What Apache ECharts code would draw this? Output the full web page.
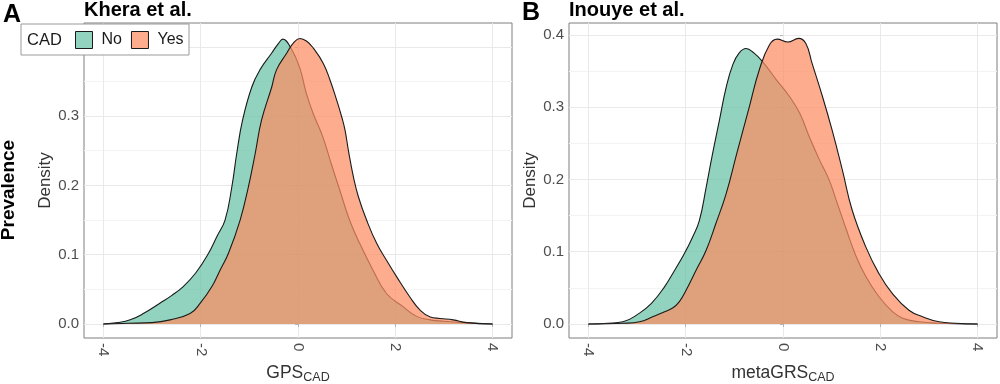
<!DOCTYPE html>
<html><head><meta charset="utf-8">
<script src="https://cdn.jsdelivr.net/npm/echarts@6/dist/echarts.min.js"></script>
<style>html,body{margin:0;padding:0;background:#fff}#c{width:1000px;height:384px}</style>
</head><body><div id="c"></div>
<script>
// ---------- data ----------
const xTicks = [-4, -2, 0, 2, 4];
const yTicks = [0, 0.1, 0.2, 0.3, 0.4];
const yMinorTicks = [0.05, 0.15, 0.25, 0.35];
const groups = ['No', 'Yes'];
const legendTitle = 'CAD';
const panelLetters = ['A', 'B'];
const panelTitles = ['Khera et al.', 'Inouye et al.'];
const xTitleMain = ['GPS', 'metaGRS'];
const xTitleSub = ['CAD', 'CAD'];
const yTitle = 'Density';
const rowTitle = 'Prevalence';

const kheraNoX = [-4.0,-3.7,-3.45,-3.18,-2.84,-2.6,-2.36,-2.1,-1.84,-1.67,-1.5,-1.36,-1.26,-1.14,-0.95,-0.78,-0.54,-0.4,-0.31,-0.16,0.03,0.17,0.31,0.51,0.68,0.86,1.06,1.27,1.54,1.82,2.16,2.44,2.72,3.0,3.4,4.0];
const kheraNoY = [0,0.002,0.006,0.015,0.03,0.041,0.054,0.074,0.102,0.126,0.15,0.198,0.246,0.294,0.342,0.367,0.391,0.405,0.411,0.4,0.371,0.333,0.304,0.27,0.232,0.193,0.15,0.116,0.078,0.044,0.025,0.011,0.006,0.004,0.002,0];

const kheraYesX = [-4.0,-3.5,-3.0,-2.63,-2.22,-2.01,-1.77,-1.6,-1.43,-1.19,-1.02,-0.88,-0.75,-0.54,-0.44,-0.23,-0.1,0.04,0.18,0.315,0.52,0.658,0.795,0.898,0.966,1.035,1.137,1.24,1.41,1.62,1.82,2.03,2.3,2.51,2.72,2.92,3.19,3.47,4.0];
const kheraYesY = [0,0.001,0.002,0.006,0.015,0.03,0.054,0.078,0.102,0.15,0.198,0.246,0.294,0.342,0.367,0.391,0.405,0.412,0.408,0.398,0.376,0.352,0.323,0.299,0.28,0.251,0.213,0.184,0.15,0.116,0.092,0.068,0.039,0.02,0.01,0.008,0.006,0.002,0];

const inouyeNoX = [-4.0,-3.6,-3.29,-2.95,-2.71,-2.44,-2.23,-2.03,-1.86,-1.72,-1.58,-1.45,-1.31,-1.17,-1.03,-0.9,-0.76,-0.6,-0.42,-0.14,0.13,0.34,0.54,0.75,0.95,1.09,1.3,1.5,1.7,1.97,2.25,2.46,2.8,3.2,4.0];
const inouyeNoY = [0,0.001,0.003,0.015,0.028,0.051,0.074,0.097,0.12,0.143,0.189,0.235,0.281,0.327,0.359,0.375,0.381,0.375,0.363,0.338,0.315,0.292,0.259,0.227,0.199,0.172,0.131,0.094,0.066,0.038,0.017,0.008,0.003,0.001,0];

const inouyeYesX = [-4.0,-3.29,-2.95,-2.68,-2.47,-2.27,-2.13,-1.99,-1.79,-1.58,-1.38,-1.17,-0.95,-0.69,-0.49,-0.28,-0.12,0.1,0.32,0.47,0.6,0.81,1.01,1.22,1.42,1.7,1.97,2.25,2.59,2.87,3.21,3.55,4.0];
const inouyeYesY = [0,0.001,0.003,0.01,0.016,0.022,0.031,0.047,0.074,0.102,0.139,0.18,0.236,0.301,0.351,0.386,0.394,0.39,0.395,0.388,0.36,0.315,0.268,0.213,0.158,0.107,0.07,0.042,0.019,0.01,0.003,0.001,0];

// ---------- styling ----------
const FONT = 'Liberation Sans, Arial, sans-serif';
const fills = ['rgba(102,194,165,0.72)', 'rgba(252,141,98,0.72)'];
const outline = '#1a1a1a';
const gridDefs = [
  {left: 84, top: 23, width: 428, height: 315, yMin: -0.0202, yMax: 0.4343},
  {left: 569, top: 23, width: 428, height: 315, yMin: -0.0194, yMax: 0.4163}
];
const panelData = [
  [[kheraNoX, kheraNoY], [kheraYesX, kheraYesY]],
  [[inouyeNoX, inouyeNoY], [inouyeYesX, inouyeYesY]]
];

const grids = [], xAxes = [], yAxes = [], series = [];
gridDefs.forEach((g, gi) => {
  grids.push({left: g.left, top: g.top, width: g.width, height: g.height, show: true,
    borderColor: '#7f7f7f', borderWidth: 1, backgroundColor: 'transparent',
    containLabel: false, outerBoundsMode: 'none'});
  xAxes.push({type: 'value', gridIndex: gi, min: -4.4, max: 4.4,
    name: '{m|' + xTitleMain[gi] + '}{s|' + xTitleSub[gi] + '}',
    nameLocation: 'middle', nameGap: 22,
    nameTextStyle: {fontFamily: FONT, color: '#333',
      rich: {m: {fontSize: 17.5, fontFamily: FONT, color: '#333', verticalAlign: 'bottom', padding: [0, 0, 2, 0]},
             s: {fontSize: 12.5, fontFamily: FONT, color: '#333', verticalAlign: 'bottom'}}},
    axisLine: {show: false},
    axisTick: {show: true, length: 3, customValues: xTicks, lineStyle: {color: '#b3b3b3'}},
    axisLabel: {customValues: xTicks, rotate: -90, margin: 5, fontSize: 15, color: '#4d4d4d', fontFamily: FONT,
      formatter: v => String(v)},
    splitLine: {show: true, lineStyle: {color: '#e9e9e9', width: 1}}
  });
  yAxes.push({type: 'value', gridIndex: gi, min: g.yMin, max: g.yMax,
    name: yTitle, nameLocation: 'middle', nameGap: 30,
    nameTextStyle: {fontSize: 17, color: '#333', fontFamily: FONT},
    axisLine: {show: false},
    axisTick: {show: true, length: 3, customValues: yTicks, lineStyle: {color: '#b3b3b3'}},
    axisLabel: {customValues: yTicks, margin: 5, fontSize: 15, color: '#4d4d4d', fontFamily: FONT,
      formatter: v => v.toFixed(1)},
    splitLine: {show: true, lineStyle: {color: '#e9e9e9', width: 1}}
  });
  yAxes.push({type: 'value', gridIndex: gi, min: g.yMin, max: g.yMax,
    axisLine: {show: false}, axisLabel: {show: false},
    axisTick: {show: false, customValues: yMinorTicks},
    splitLine: {show: true, lineStyle: {color: '#f3f3f3', width: 1}}
  });
  panelData[gi].forEach((d, si) => {
    series.push({type: 'line', name: groups[si], xAxisIndex: gi, yAxisIndex: gi * 2,
      data: d[0].map((x, i) => [x, d[1][i]]),
      smooth: 0.45, showSymbol: false, symbol: 'none', silent: true,
      lineStyle: {color: outline, width: 1.1},
      itemStyle: {color: fills[si]},
      areaStyle: {color: fills[si], opacity: 1},
      z: 2 + si
    });
  });
});

const graphics = [
  {type: 'rect', shape: {x: 21, y: 24, width: 168, height: 31}, style: {fill: '#fff', stroke: '#9a9a9a', lineWidth: 1}, z: 50},
  {type: 'text', x: 27, y: 40, style: {text: legendTitle, font: '16.5px ' + FONT, fill: '#1a1a1a', textVerticalAlign: 'middle'}, z: 51},
  {type: 'text', x: 9, y: 190, rotation: Math.PI / 2, style: {text: rowTitle, font: 'bold 19px ' + FONT, fill: '#000', textAlign: 'center', textVerticalAlign: 'middle'}, z: 51},
  {type: 'text', x: 3, y: 15, style: {text: panelLetters[0], font: 'bold 25px ' + FONT, fill: '#000', textVerticalAlign: 'middle'}, z: 51},
  {type: 'text', x: 84, y: 10, style: {text: panelTitles[0], font: 'bold 20px ' + FONT, fill: '#000', textVerticalAlign: 'middle'}, z: 51},
  {type: 'text', x: 522, y: 13, style: {text: panelLetters[1], font: 'bold 25px ' + FONT, fill: '#000', textVerticalAlign: 'middle'}, z: 51},
  {type: 'text', x: 569, y: 10, style: {text: panelTitles[1], font: 'bold 20px ' + FONT, fill: '#000', textVerticalAlign: 'middle'}, z: 51}
];

const chart = echarts.init(document.getElementById('c'), null, {renderer: 'canvas'});
chart.setOption({
  animation: false,
  backgroundColor: '#fff',
  textStyle: {fontFamily: FONT},
  grid: grids, xAxis: xAxes, yAxis: yAxes, series: series,
  legend: {left: 75, top: 31, padding: 0, itemWidth: 17, itemHeight: 17, itemGap: 9, icon: 'rect',
    selectedMode: false, z: 60,
    textStyle: {fontSize: 16, color: '#1a1a1a', fontFamily: FONT, padding: [0, 0, 0, 4]},
    data: groups.map((g, i) => ({name: g, icon: 'rect', itemStyle: {color: fills[i], borderColor: '#1a1a1a', borderWidth: 1}}))},
  graphic: {elements: graphics}
});
</script></body></html>
